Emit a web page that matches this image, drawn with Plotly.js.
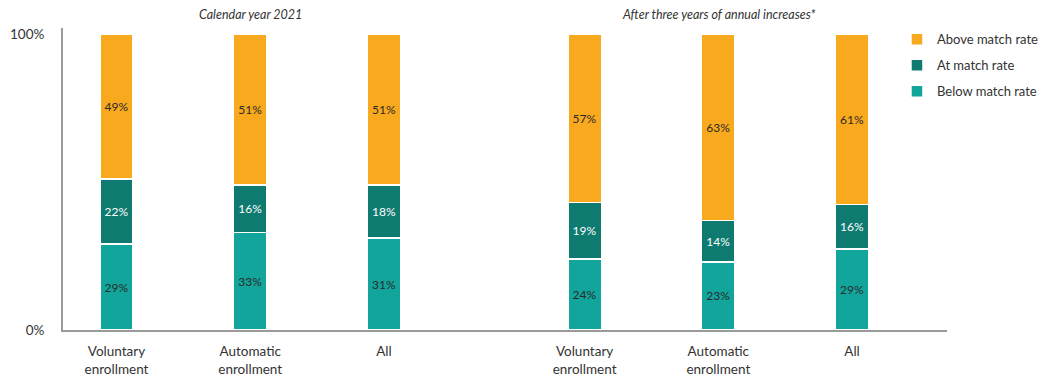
<!DOCTYPE html>
<html>
<head>
<meta charset="utf-8">
<script src="https://cdn.plot.ly/plotly-3.0.1.min.js"></script>
<style>html,body{margin:0;padding:0;background:#fff;}#chart{width:1043px;height:376px;}</style>
</head>
<body>
<div id="chart"></div>
<script>
const categories = ["Voluntary<br>enrollment", "Automatic<br>enrollment", "All"];
const groups = ["Calendar year 2021", "After three years of annual increases*"];
const seriesNames = ["Below match rate", "At match rate", "Above match rate"];
const below = [29, 33, 31, 24, 23, 29];
const at = [22, 16, 18, 19, 14, 16];
const above = [49, 51, 51, 57, 63, 61];

const colors = ["#12A59C", "#0F7A70", "#F9A91E"];
const textColors = ["#2a2a2a", "#ffffff", "#2a2a2a"];
const seriesVals = [below, at, above];

// positions: groups separated by an extra half-slot gap
const xs = [];
const tickText = [];
groups.forEach((g, gi) => categories.forEach((c, ci) => { xs.push(gi * 3.5 + ci); tickText.push(c); }));

const fontFam = "Lato, 'Noto Sans', sans-serif";
const traces = seriesNames.map((name, si) => ({
  type: "bar",
  name: name,
  legendgroup: "g" + si,
  legendrank: 3 - si,
  x: xs,
  y: seriesVals[si],
  width: 0.25,
  text: seriesVals[si].map(v => v + "%"),
  textposition: "inside",
  insidetextanchor: "middle",
  textangle: 0,
  textfont: {family: fontFam, size: 12, color: textColors[si]},
  constraintext: "none",
  marker: {color: colors[si], line: {color: "#ffffff", width: 1.5}},
  hoverinfo: "skip"
}));

const annotations = groups.map((g, gi) => ({
  text: "<i>" + g + "</i>",
  x: gi * 3.5 + 1,
  xref: "x",
  y: 1.0,
  yref: "paper",
  yanchor: "middle",
  yshift: 14,
  showarrow: false,
  font: {family: fontFam, size: 12.5, color: "#333"}
}));

const layout = {
  width: 1043, height: 376,
  margin: {l: 63, r: 96, t: 28, b: 46, autoexpand: false},
  paper_bgcolor: "#fff", plot_bgcolor: "#fff",
  barmode: "stack",
  barnorm: "percent",
  font: {family: fontFam, size: 13, color: "#333"},
  showlegend: true,
  legend: {
    traceorder: "grouped",
    x: 0.9434, xanchor: "left", y: 1.012, yanchor: "top",
    font: {family: fontFam, size: 13, color: "#333"},
    itemwidth: 30, tracegroupgap: 6,
    bgcolor: "rgba(0,0,0,0)"
  },
  xaxis: {
    range: [-0.40, 6.21],
    tickmode: "array", tickvals: xs, ticktext: tickText,
    showline: true, linecolor: "#9a9a9a", linewidth: 2,
    showgrid: false, zeroline: false, ticks: "", ticklabelstandoff: 8,
    tickfont: {family: fontFam, size: 13.5, color: "#333"}
  },
  yaxis: {
    range: [0, 102],
    tickmode: "array", tickvals: [0, 100], ticktext: ["0%", "100%"],
    showline: true, linecolor: "#9a9a9a", linewidth: 2,
    showgrid: false, zeroline: false, ticks: "", ticklabelstandoff: 14,
    tickfont: {family: fontFam, size: 13.5, color: "#333"}
  },
  annotations: annotations
};

Plotly.newPlot("chart", traces, layout, {displayModeBar: false, staticPlot: true});
</script>
</body>
</html>
